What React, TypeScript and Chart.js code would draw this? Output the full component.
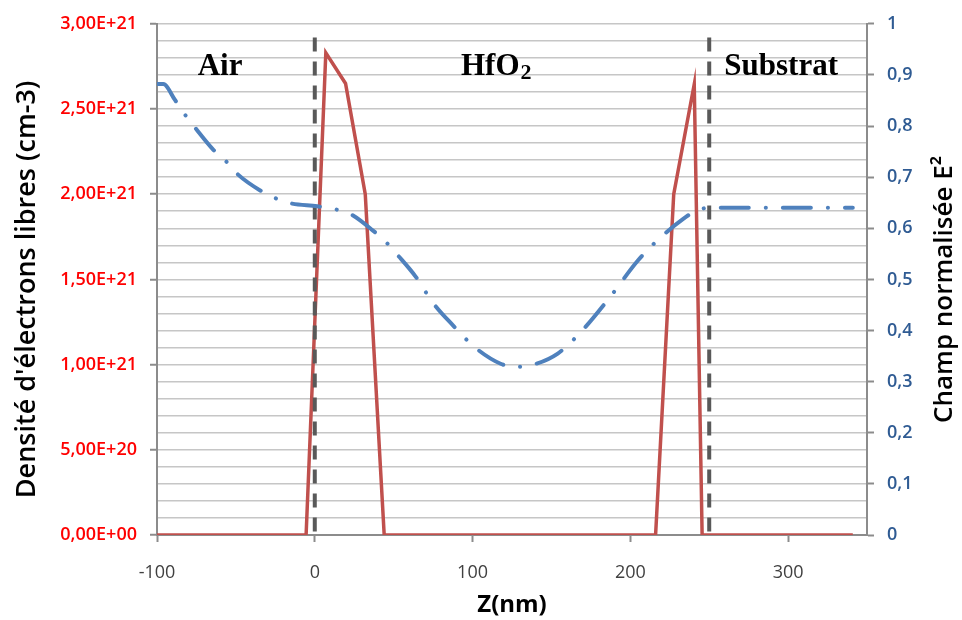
import React, { useEffect, useRef } from "react";
import { Chart, registerables } from "chart.js";

Chart.register(...registerables);

// ---- Data ----
const zDensity = [-100, -5.5, 7, 19.5, 32, 44, 216, 227.5, 240.5, 245.5, 341];
const density = [0, 0, 2.83e21, 2.65e21, 2.0e21, 0, 0, 2.0e21, 2.645e21, 0, 0];

const zField = [
  -100, -96, -88.6, -82.2, -75.9, -64.4, -56.2, -48.6, -34.6, -25.1, -15.6, 1.6, 11.7, 22.5, 37.1, 44.8,
  52.4, 63.8, 75.2, 87.3, 101.9, 117.8, 127.3, 138.1, 154, 168.6, 187, 204.8, 218.1, 233.3, 241.6, 249.8, 341,
];
const field = [
  0.882, 0.882, 0.851, 0.822, 0.797, 0.754, 0.731, 0.705, 0.674, 0.659, 0.649, 0.643, 0.638, 0.628, 0.595, 0.574,
  0.548, 0.506, 0.453, 0.411, 0.366, 0.335, 0.329, 0.333, 0.355, 0.397, 0.465, 0.537, 0.579, 0.618, 0.634, 0.64, 0.64,
];

const boundaryZ = [0, 250];
const boundaryTop = 2.92e21;

const xTicks = [-100, 0, 100, 200, 300];
const densityTicks = [0, 5e20, 1e21, 1.5e21, 2e21, 2.5e21, 3e21];
const densityLabels = ["0,00E+00", "5,00E+20", "1,00E+21", "1,50E+21", "2,00E+21", "2,50E+21", "3,00E+21"];
const densityGridStep = 1e20;
const densityMax = 3e21;
const fieldTicks = [0, 0.1, 0.2, 0.3, 0.4, 0.5, 0.6, 0.7, 0.8, 0.9, 1];
const fieldLabels = ["0", "0,1", "0,2", "0,3", "0,4", "0,5", "0,6", "0,7", "0,8", "0,9", "1"];

const regionLabels = ["Air", "HfO₂", "Substrat"];
const regionZ = [-60, 115, 295.6];

const xTitle = "Z(nm)";
const leftTitle = "Densité d'électrons libres (cm-3)";
const rightTitle = "Champ normalisée E²";

const AXIS = "#8C8C8C";

function densityLabel(v: number): string {
  for (let i = 0; i < densityTicks.length; i++) {
    if (Math.abs(densityTicks[i] - v) < densityGridStep / 10) return densityLabels[i];
  }
  return "";
}
function isMajorDensity(v: number): boolean {
  return densityLabel(v) !== "";
}

function drawVerticalTitle(ctx: any, text: string, baselineX: number, centerY: number, font: string) {
  ctx.save();
  ctx.translate(baselineX, centerY);
  ctx.rotate(-Math.PI / 2);
  ctx.textAlign = "center";
  ctx.textBaseline = "alphabetic";
  ctx.font = font;
  ctx.fillStyle = "#000";
  ctx.fillText(text, 0, 0);
  ctx.restore();
}

const overlayPlugin = {
  id: "overlay",
  afterDraw(chart: any) {
    const { ctx, chartArea, scales } = chart;
    ctx.save();
    // region labels
    ctx.fillStyle = "#000";
    ctx.textBaseline = "alphabetic";
    const fs = 31;
    const baseline = chartArea.top + 51;
    regionLabels.forEach((lab, i) => {
      const cx = scales.x.getPixelForValue(regionZ[i]);
      const main = lab.replace("₂", "");
      const hasSub = lab.includes("₂");
      ctx.font = `bold ${fs}px "Liberation Serif"`;
      const wMain = ctx.measureText(main).width;
      ctx.font = `bold ${Math.round(fs * 0.7)}px "Liberation Serif"`;
      const wSub = hasSub ? ctx.measureText("2").width + 1 : 0;
      const x0 = cx - (wMain + wSub) / 2;
      ctx.textAlign = "left";
      ctx.font = `bold ${fs}px "Liberation Serif"`;
      ctx.fillText(main, x0, baseline);
      if (hasSub) {
        ctx.font = `bold ${Math.round(fs * 0.7)}px "Liberation Serif"`;
        ctx.fillText("2", x0 + wMain + 1, baseline + 4);
      }
    });
    ctx.restore();
    const midY = (chartArea.top + chartArea.bottom) / 2 + 10;
    drawVerticalTitle(ctx, leftTitle, 35, midY, `600 27px "Open Sans"`);
    drawVerticalTitle(ctx, rightTitle, 952, midY, `600 26px "Open Sans"`);
  },
};

export default function App() {
  const ref = useRef<HTMLCanvasElement | null>(null);

  useEffect(() => {
    if (!ref.current) return;
    Chart.defaults.font.family = "Open Sans";
    const gridValues: number[] = [];
    for (let i = 0; i * densityGridStep <= densityMax + 1; i++) gridValues.push(i * densityGridStep);

    const chart = new Chart(ref.current, {
      type: "line",
      data: {
        datasets: [
          {
            label: "Champ",
            data: zField.map((z, i) => ({ x: z, y: field[i] })),
            yAxisID: "y2",
            borderColor: "#4F81BD",
            borderWidth: 4,
            borderDash: [28, 17, 0.1, 17],
            borderCapStyle: "round",
            pointRadius: 0,
            cubicInterpolationMode: "monotone",
            order: 0,
          },
          ...boundaryZ.map((bz) => ({
            label: "interface",
            data: [
              { x: bz, y: boundaryTop },
              { x: bz, y: 0 },
            ],
            yAxisID: "y",
            borderColor: "#595959",
            borderWidth: 4,
            borderDash: [14, 10],
            pointRadius: 0,
            order: 1,
          })),
          {
            label: "Densité",
            data: zDensity.map((z, i) => ({ x: z, y: density[i] })),
            yAxisID: "y",
            borderColor: "#C0504D",
            borderWidth: 3.5,
            pointRadius: 0,
            tension: 0,
            order: 2,
          },
        ] as any,
      },
      options: {
        responsive: false,
        animation: false,
        layout: { padding: { top: 21, left: 0, right: 0, bottom: 0 } },
        plugins: { legend: { display: false }, tooltip: { enabled: false } },
        scales: {
          x: {
            type: "linear",
            position: "bottom",
            min: -100,
            max: 350,
            afterBuildTicks: (s: any) => {
              s.ticks = xTicks.map((v) => ({ value: v }));
            },
            afterFit: (s: any) => {
              s.height = 85;
            },
            grid: { drawOnChartArea: false, color: AXIS, tickColor: AXIS, tickLength: 7, tickWidth: 2 },
            border: { color: AXIS, width: 2 },
            ticks: {
              color: "#404040",
              font: { family: "Open Sans", size: 18 },
              padding: 20,
              maxRotation: 0,
              autoSkip: false,
              callback: (v: any) => String(v),
            },
            title: {
              display: true,
              text: xTitle,
              color: "#000",
              font: { family: "Open Sans", size: 24, weight: "bold" },
              padding: { top: 0, bottom: 0 },
            },
          },
          y: {
            type: "linear",
            position: "left",
            min: 0,
            max: densityMax,
            afterBuildTicks: (s: any) => {
              s.ticks = gridValues.map((v) => ({ value: v }));
            },
            afterFit: (s: any) => {
              s.width = 157;
            },
            grid: {
              color: "#C6C6C6",
              lineWidth: 1.5,
              tickLength: 7,
              tickWidth: 2,
              tickColor: (c: any) => (c.tick && isMajorDensity(c.tick.value) ? AXIS : "rgba(0,0,0,0)"),
            },
            border: { color: AXIS, width: 2 },
            ticks: {
              color: "#FF0000",
              font: { family: "Open Sans", size: 18, weight: "600" },
              padding: 13,
              autoSkip: false,
              callback: (v: any) => densityLabel(Number(v)),
            },
            title: { display: false },
          },
          y2: {
            type: "linear",
            position: "right",
            min: 0,
            max: 1,
            afterBuildTicks: (s: any) => {
              s.ticks = fieldTicks.map((v) => ({ value: v }));
            },
            afterFit: (s: any) => {
              s.width = 95;
            },
            grid: { drawOnChartArea: false, color: AXIS, tickColor: AXIS, tickLength: 7, tickWidth: 2 },
            border: { color: AXIS, width: 2 },
            ticks: {
              color: "#2F5B93",
              font: { family: "Open Sans", size: 18, weight: "600" },
              padding: 13,
              autoSkip: false,
              callback: (v: any) => {
                const i = fieldTicks.findIndex((t) => Math.abs(t - Number(v)) < 1e-6);
                return i >= 0 ? fieldLabels[i] : "";
              },
            },
            title: { display: false },
          },
        },
      } as any,
      plugins: [overlayPlugin],
    });
    return () => chart.destroy();
  }, []);

  return (
    <div style={{ position: "fixed", left: 0, top: 0, width: 962, height: 620, background: "#fff" }}>
      <canvas ref={ref} width={962} height={620} style={{ display: "block" }} />
    </div>
  );
}
